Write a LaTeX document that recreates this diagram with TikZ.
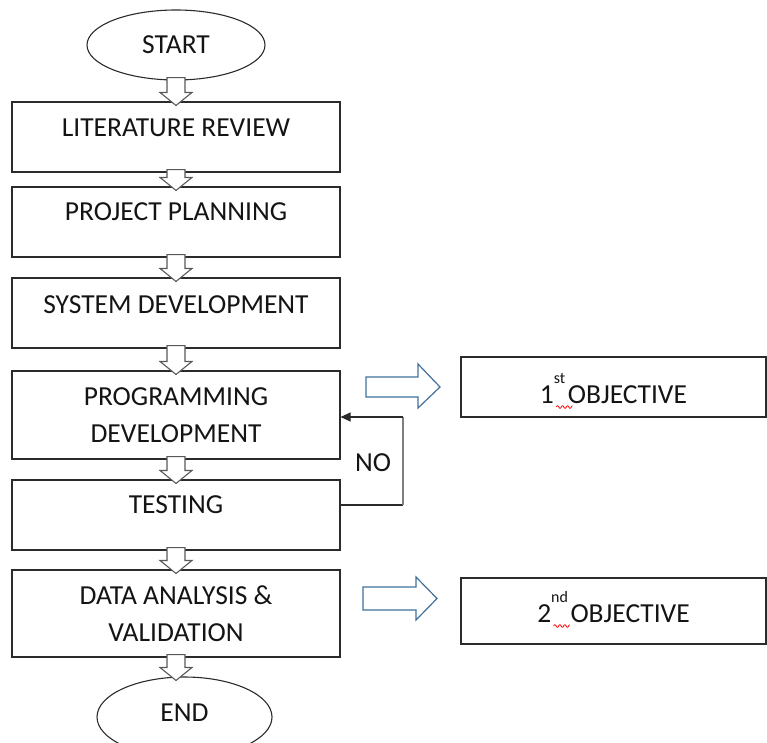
\documentclass[tikz,border=0pt]{standalone}
\usepackage{fontspec}
\setmainfont{Carlito}
\usetikzlibrary{shapes.geometric,calc,arrows.meta}

\definecolor{boxline}{HTML}{2B2B2B}
\definecolor{hollowgray}{HTML}{595959}
\definecolor{objblue}{HTML}{41719C}
\definecolor{fbgray}{HTML}{7F7F7F}

% red spell-check squiggle under a superscript
\newcommand\spellwave{\kern2pt\tikz[baseline=0pt, x=1pt, y=1pt]{%
  \draw[red, line width=0.8pt, fill=none]
    plot[domain=0:16, samples=49, smooth] (\x, {-4+1.3*sin(\x*72)});}}
\newcommand\ordinal[2]{#1\rlap{\spellwave}\raisebox{19.5pt}{\fontsize{16}{16}\selectfont #2}\hspace{2.5pt}}

% hollow grey block arrow pointing down from one node to the next
\newcommand\blockdown[2]{%
  \draw[downblock] let \p1=([yshift=3pt]#1.south), \p2=([yshift=-4pt]#2.north) in
    (\x1-9pt,\y1) -- (\x1+9pt,\y1) -- (\x1+9pt,\y2+13pt)
      -- (\x1+16pt,\y2+13pt) -- (\x1,\y2) -- (\x1-16pt,\y2+13pt)
      -- (\x1-9pt,\y2+13pt) -- cycle;}

\tikzset{
  every node/.style={font=\fontsize{27.5}{37}\selectfont, text=black!92},
  stepbox/.style={draw=boxline, line width=1.1pt, minimum width=328pt,
    minimum height=70pt, inner sep=0pt, align=center},
  oval/.style={ellipse, draw=boxline, line width=1.1pt, inner sep=0pt},
  objbox/.style={draw=boxline, line width=1.1pt, minimum width=305pt,
    inner sep=0pt},
  downblock/.style={draw=hollowgray, fill=white, line width=1.1pt, line join=miter},
  rightblock/.style={draw=objblue, fill=white, line width=1.2pt, line join=miter},
  loopline/.style={line width=1.1pt, draw=boxline},
}

\begin{document}
\begin{tikzpicture}[x=1pt, y=-1pt]
\useasboundingbox (0,0) rectangle (767,742);
\clip (0,0) rectangle (767,742);

% main column
\node[oval, minimum width=178pt, minimum height=70pt] (start) at (176,45) {START};
\node[stepbox, text height=18pt, text depth=19pt] (lit)  at (176,137) {LITERATURE REVIEW};
\node[stepbox, text height=18pt, text depth=21pt] (proj) at (176,222) {PROJECT PLANNING};
\node[stepbox, text height=18pt, text depth=17pt] (sys)  at (176,313) {SYSTEM DEVELOPMENT};
\node[stepbox, minimum height=88pt] (prog) at (176,415) {PROGRAMMING\\DEVELOPMENT};
\node[stepbox, text height=18pt, text depth=21pt] (test) at (176,515) {TESTING};
\node[stepbox, minimum height=87pt] (data) at (176,613.5) {DATA ANALYSIS \&\\VALIDATION};
\node[oval, minimum width=175pt, minimum height=80pt, text height=18pt, text depth=9pt]
  (end) at (184.5,717) {END};

% objectives
\node[objbox, minimum height=60pt, text height=32pt, text depth=0pt] (obj1) at (613.5,387)
  {\ordinal{1}{st}OBJECTIVE};
\node[objbox, minimum height=66pt, text height=22pt, text depth=0pt] (obj2) at (613.5,611)
  {\ordinal{2}{nd}OBJECTIVE};

% flow arrows
\blockdown{start}{lit}
\blockdown{lit}{proj}
\blockdown{proj}{sys}
\blockdown{sys}{prog}
\blockdown{prog}{test}
\blockdown{test}{data}
\blockdown{data}{end}

% arrows towards the objectives
\draw[rightblock] (366,377) -- (418,377) -- (418,364) -- (440,387)
  -- (418,408) -- (418,397) -- (366,397) -- cycle;
\draw[rightblock] (363,587) -- (416,587) -- (416,577) -- (437,598.5)
  -- (416,620) -- (416,610) -- (363,610) -- cycle;

% feedback loop from testing back to programming
\coordinate (fbA) at (403,505);
\coordinate (fbB) at (403,417);
\draw[loopline] ([yshift=10pt]test.east) -- (fbA);
\draw[loopline, draw=fbgray] (fbA) -- (fbB);
\draw[loopline, -{Triangle[length=10pt,width=9pt]}] (fbB) -- (fbB -| prog.east);
\node (no) at (373,463) {NO};
\end{tikzpicture}
\end{document}
